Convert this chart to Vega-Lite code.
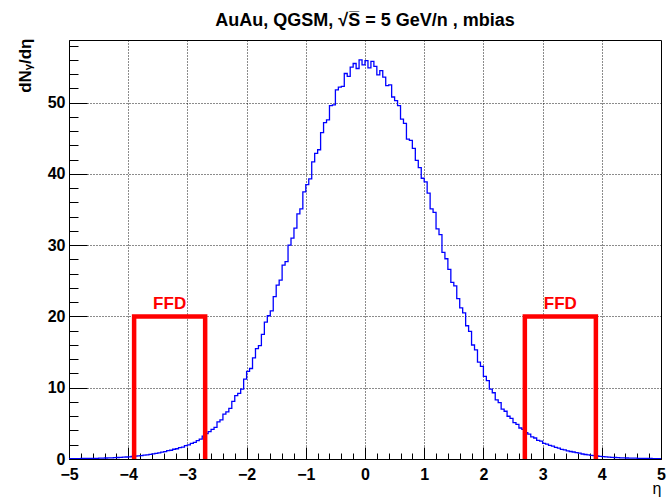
{
  "$schema": "https://vega.github.io/schema/vega-lite/v6.json",
  "width": 592,
  "height": 419,
  "autosize": "none",
  "padding": {"left": 69, "top": 40, "right": 6, "bottom": 38},
  "background": "white",
  "config": {
    "view": {"stroke": "#000", "strokeWidth": 1},
    "font": "Liberation Sans"
  },
  "title": {
    "text": "AuAu, QGSM,  √S̅ = 5 GeV/n , mbias",
    "font": "Liberation Sans",
    "fontSize": 18,
    "fontWeight": "bold",
    "color": "#000",
    "anchor": "middle",
    "offset": 8
  },
  "datasets": {
    "hist": [
      {"eta": -5.00, "dn": 0.05}, {"eta": -4.95, "dn": 0.05}, {"eta": -4.90, "dn": 0.06}, {"eta": -4.85, "dn": 0.06},
      {"eta": -4.80, "dn": 0.07}, {"eta": -4.75, "dn": 0.07}, {"eta": -4.70, "dn": 0.08}, {"eta": -4.65, "dn": 0.09},
      {"eta": -4.60, "dn": 0.10}, {"eta": -4.55, "dn": 0.10}, {"eta": -4.50, "dn": 0.11}, {"eta": -4.45, "dn": 0.12},
      {"eta": -4.40, "dn": 0.14}, {"eta": -4.35, "dn": 0.15}, {"eta": -4.30, "dn": 0.16}, {"eta": -4.25, "dn": 0.18},
      {"eta": -4.20, "dn": 0.21}, {"eta": -4.15, "dn": 0.22}, {"eta": -4.10, "dn": 0.25}, {"eta": -4.05, "dn": 0.28},
      {"eta": -4.00, "dn": 0.31}, {"eta": -3.95, "dn": 0.35}, {"eta": -3.90, "dn": 0.39}, {"eta": -3.85, "dn": 0.43},
      {"eta": -3.80, "dn": 0.48}, {"eta": -3.75, "dn": 0.53}, {"eta": -3.70, "dn": 0.57}, {"eta": -3.65, "dn": 0.66},
      {"eta": -3.60, "dn": 0.71}, {"eta": -3.55, "dn": 0.80}, {"eta": -3.50, "dn": 0.86}, {"eta": -3.45, "dn": 0.97},
      {"eta": -3.40, "dn": 1.04}, {"eta": -3.35, "dn": 1.17}, {"eta": -3.30, "dn": 1.23}, {"eta": -3.25, "dn": 1.37},
      {"eta": -3.20, "dn": 1.44}, {"eta": -3.15, "dn": 1.60}, {"eta": -3.10, "dn": 1.68}, {"eta": -3.05, "dn": 1.88},
      {"eta": -3.00, "dn": 1.98}, {"eta": -2.95, "dn": 2.19}, {"eta": -2.90, "dn": 2.32}, {"eta": -2.85, "dn": 2.58},
      {"eta": -2.80, "dn": 2.80}, {"eta": -2.75, "dn": 3.20}, {"eta": -2.70, "dn": 3.55}, {"eta": -2.65, "dn": 3.85},
      {"eta": -2.60, "dn": 4.15}, {"eta": -2.55, "dn": 4.45}, {"eta": -2.50, "dn": 5.2}, {"eta": -2.45, "dn": 5.5},
      {"eta": -2.40, "dn": 6.3}, {"eta": -2.35, "dn": 6.6}, {"eta": -2.30, "dn": 7.1}, {"eta": -2.25, "dn": 8.1},
      {"eta": -2.20, "dn": 8.9}, {"eta": -2.15, "dn": 9.2}, {"eta": -2.10, "dn": 9.8}, {"eta": -2.05, "dn": 11.2},
      {"eta": -2.00, "dn": 12.3}, {"eta": -1.95, "dn": 12.7}, {"eta": -1.90, "dn": 14.2}, {"eta": -1.85, "dn": 15.5},
      {"eta": -1.80, "dn": 15.9}, {"eta": -1.75, "dn": 17.5}, {"eta": -1.70, "dn": 19.2}, {"eta": -1.65, "dn": 20.1},
      {"eta": -1.60, "dn": 20.8}, {"eta": -1.55, "dn": 22.8}, {"eta": -1.50, "dn": 24.4}, {"eta": -1.45, "dn": 25.1},
      {"eta": -1.40, "dn": 27.2}, {"eta": -1.35, "dn": 27.7}, {"eta": -1.30, "dn": 30.0}, {"eta": -1.25, "dn": 31.0},
      {"eta": -1.20, "dn": 32.4}, {"eta": -1.15, "dn": 34.4}, {"eta": -1.10, "dn": 35.1}, {"eta": -1.05, "dn": 37.5},
      {"eta": -1.00, "dn": 38.5}, {"eta": -0.95, "dn": 39.3}, {"eta": -0.90, "dn": 41.7}, {"eta": -0.85, "dn": 42.9},
      {"eta": -0.80, "dn": 43.4}, {"eta": -0.75, "dn": 45.8}, {"eta": -0.70, "dn": 47.2}, {"eta": -0.65, "dn": 47.6},
      {"eta": -0.60, "dn": 49.6}, {"eta": -0.55, "dn": 49.7}, {"eta": -0.50, "dn": 51.8}, {"eta": -0.45, "dn": 52.2},
      {"eta": -0.40, "dn": 52.3}, {"eta": -0.35, "dn": 54.1}, {"eta": -0.30, "dn": 53.7}, {"eta": -0.25, "dn": 55.0},
      {"eta": -0.20, "dn": 55.5}, {"eta": -0.15, "dn": 54.8}, {"eta": -0.10, "dn": 56.0}, {"eta": -0.05, "dn": 55.3},
      {"eta": 0.00, "dn": 55.9}, {"eta": 0.05, "dn": 54.9}, {"eta": 0.10, "dn": 55.8}, {"eta": 0.15, "dn": 55.1},
      {"eta": 0.20, "dn": 53.9}, {"eta": 0.25, "dn": 54.5}, {"eta": 0.30, "dn": 53.6}, {"eta": 0.35, "dn": 52.4},
      {"eta": 0.40, "dn": 52.5}, {"eta": 0.45, "dn": 50.8}, {"eta": 0.50, "dn": 50.3}, {"eta": 0.55, "dn": 49.6},
      {"eta": 0.60, "dn": 47.7}, {"eta": 0.65, "dn": 47.1}, {"eta": 0.70, "dn": 44.9}, {"eta": 0.75, "dn": 44.7},
      {"eta": 0.80, "dn": 43.6}, {"eta": 0.85, "dn": 41.9}, {"eta": 0.90, "dn": 40.9}, {"eta": 0.95, "dn": 39.4},
      {"eta": 1.00, "dn": 38.9}, {"eta": 1.05, "dn": 37.3}, {"eta": 1.10, "dn": 35.1}, {"eta": 1.15, "dn": 34.6},
      {"eta": 1.20, "dn": 32.3}, {"eta": 1.25, "dn": 31.5}, {"eta": 1.30, "dn": 29.0}, {"eta": 1.35, "dn": 28.1},
      {"eta": 1.40, "dn": 26.6}, {"eta": 1.45, "dn": 24.8}, {"eta": 1.50, "dn": 24.3}, {"eta": 1.55, "dn": 22.5},
      {"eta": 1.60, "dn": 21.2}, {"eta": 1.65, "dn": 20.5}, {"eta": 1.70, "dn": 18.7}, {"eta": 1.75, "dn": 17.9},
      {"eta": 1.80, "dn": 16.0}, {"eta": 1.85, "dn": 15.3}, {"eta": 1.90, "dn": 13.6}, {"eta": 1.95, "dn": 13.0},
      {"eta": 2.00, "dn": 11.6}, {"eta": 2.05, "dn": 11.0}, {"eta": 2.10, "dn": 9.8}, {"eta": 2.15, "dn": 9.3},
      {"eta": 2.20, "dn": 8.3}, {"eta": 2.25, "dn": 7.9}, {"eta": 2.30, "dn": 7.0}, {"eta": 2.35, "dn": 6.7},
      {"eta": 2.40, "dn": 6.0}, {"eta": 2.45, "dn": 5.7}, {"eta": 2.50, "dn": 5.1}, {"eta": 2.55, "dn": 4.85},
      {"eta": 2.60, "dn": 4.35}, {"eta": 2.65, "dn": 4.15}, {"eta": 2.70, "dn": 3.7}, {"eta": 2.75, "dn": 3.5},
      {"eta": 2.80, "dn": 3.1}, {"eta": 2.85, "dn": 2.95}, {"eta": 2.90, "dn": 2.6}, {"eta": 2.95, "dn": 2.5},
      {"eta": 3.00, "dn": 2.2}, {"eta": 3.05, "dn": 2.1}, {"eta": 3.10, "dn": 1.9}, {"eta": 3.15, "dn": 1.82},
      {"eta": 3.20, "dn": 1.62}, {"eta": 3.25, "dn": 1.52}, {"eta": 3.30, "dn": 1.35}, {"eta": 3.35, "dn": 1.28},
      {"eta": 3.40, "dn": 1.15}, {"eta": 3.45, "dn": 1.05}, {"eta": 3.50, "dn": 0.98}, {"eta": 3.55, "dn": 0.89},
      {"eta": 3.60, "dn": 0.82}, {"eta": 3.65, "dn": 0.70}, {"eta": 3.70, "dn": 0.63}, {"eta": 3.75, "dn": 0.57},
      {"eta": 3.80, "dn": 0.52}, {"eta": 3.85, "dn": 0.46}, {"eta": 3.90, "dn": 0.42}, {"eta": 3.95, "dn": 0.36},
      {"eta": 4.00, "dn": 0.33}, {"eta": 4.05, "dn": 0.30}, {"eta": 4.10, "dn": 0.26}, {"eta": 4.15, "dn": 0.24},
      {"eta": 4.20, "dn": 0.21}, {"eta": 4.25, "dn": 0.19}, {"eta": 4.30, "dn": 0.17}, {"eta": 4.35, "dn": 0.16},
      {"eta": 4.40, "dn": 0.14}, {"eta": 4.45, "dn": 0.13}, {"eta": 4.50, "dn": 0.11}, {"eta": 4.55, "dn": 0.11},
      {"eta": 4.60, "dn": 0.10}, {"eta": 4.65, "dn": 0.09}, {"eta": 4.70, "dn": 0.08}, {"eta": 4.75, "dn": 0.08},
      {"eta": 4.80, "dn": 0.07}, {"eta": 4.85, "dn": 0.06}, {"eta": 4.90, "dn": 0.06}, {"eta": 4.95, "dn": 0.05},
      {"eta": 5.00, "dn": 0.05}
    ],
    "ffd": [
      {"box": "L", "k": 1, "eta": -3.9, "dn": 0}, {"box": "L", "k": 2, "eta": -3.9, "dn": 20},
      {"box": "L", "k": 3, "eta": -2.7, "dn": 20}, {"box": "L", "k": 4, "eta": -2.7, "dn": 0},
      {"box": "R", "k": 1, "eta": 2.7, "dn": 0}, {"box": "R", "k": 2, "eta": 2.7, "dn": 20},
      {"box": "R", "k": 3, "eta": 3.9, "dn": 20}, {"box": "R", "k": 4, "eta": 3.9, "dn": 0}
    ],
    "ffdlabel": [
      {"eta": -3.3, "dn": 20, "label": "FFD"},
      {"eta": 3.3, "dn": 20, "label": "FFD"}
    ]
  },
  "layer": [
    {
      "data": {"name": "hist"},
      "mark": {"type": "line", "interpolate": "step-after", "color": "#0000ff", "strokeWidth": 1.3, "clip": true},
      "encoding": {
        "x": {
          "field": "eta", "type": "quantitative",
          "scale": {"domain": [-5, 5], "nice": false, "zero": false},
          "axis": {
            "values": [-5, -4.8, -4.6, -4.4, -4.2, -4, -3.8, -3.6, -3.4, -3.2, -3, -2.8, -2.6, -2.4, -2.2, -2, -1.8, -1.6, -1.4, -1.2, -1, -0.8, -0.6, -0.4, -0.2, 0, 0.2, 0.4, 0.6, 0.8, 1, 1.2, 1.4, 1.6, 1.8, 2, 2.2, 2.4, 2.6, 2.8, 3, 3.2, 3.4, 3.6, 3.8, 4, 4.2, 4.4, 4.6, 4.8, 5],
            "tickCount": 200,
            "labelExpr": "datum.value % 1 == 0 ? format(datum.value, 'd') : ''",
            "grid": true,
            "gridColor": "#000",
            "gridDash": [1, 2],
            "gridWidth": 1,
            "gridOpacity": {"condition": {"test": "datum.value % 1 == 0 && abs(datum.value) < 5", "value": 0.9}, "value": 0},
            "tickSize": {"condition": {"test": "datum.value % 1 == 0", "value": -12}, "value": -6},
            "tickColor": "#000",
            "tickWidth": 1,
            "domainColor": "#000",
            "labelFont": "Liberation Sans",
            "labelFontWeight": "bold",
            "labelFontSize": 16,
            "labelColor": "#000",
            "labelPadding": 19,
            "labelFlush": false,
            "labelOverlap": false,
            "labelBound": false,
            "title": "η",
            "titleFont": "Liberation Sans",
            "titleFontSize": 16,
            "titleFontWeight": "normal",
            "titleColor": "#000",
            "titleAlign": "right",
            "titleBaseline": "alphabetic",
            "titleX": 592,
            "titleY": 34
          }
        },
        "y": {
          "field": "dn", "type": "quantitative",
          "scale": {"domain": [0, 58.8], "nice": false, "zero": false},
          "axis": {
            "values": [0, 2, 4, 6, 8, 10, 12, 14, 16, 18, 20, 22, 24, 26, 28, 30, 32, 34, 36, 38, 40, 42, 44, 46, 48, 50, 52, 54, 56, 58],
            "tickCount": 200,
            "labelExpr": "datum.value % 10 == 0 ? format(datum.value, 'd') : ''",
            "grid": true,
            "gridColor": "#000",
            "gridDash": [1, 2],
            "gridWidth": 1,
            "gridOpacity": {"condition": {"test": "datum.value % 10 == 0 && datum.value > 0", "value": 0.9}, "value": 0},
            "tickSize": {"condition": {"test": "datum.value % 10 == 0", "value": -18}, "value": -9},
            "tickColor": "#000",
            "tickWidth": 1,
            "domainColor": "#000",
            "labelFont": "Liberation Sans",
            "labelFontWeight": "bold",
            "labelFontSize": 16,
            "labelColor": "#000",
            "labelPadding": 22,
            "labelFlush": false,
            "labelOverlap": false,
            "labelBound": false,
            "title": "dNᵧ/dη",
            "titleFont": "Liberation Sans",
            "titleFontSize": 17,
            "titleFontWeight": "bold",
            "titleColor": "#000",
            "titleAngle": -90,
            "titleAlign": "right",
            "titleBaseline": "bottom",
            "titleX": -35,
            "titleY": -2
          }
        }
      }
    },
    {
      "data": {"name": "ffd"},
      "mark": {"type": "line", "color": "#ff0000", "strokeWidth": 4.5, "strokeJoin": "miter", "strokeCap": "butt"},
      "encoding": {
        "x": {"field": "eta", "type": "quantitative"},
        "y": {"field": "dn", "type": "quantitative"},
        "detail": {"field": "box", "type": "nominal"},
        "order": {"field": "k", "type": "quantitative"}
      }
    },
    {
      "data": {"name": "ffdlabel"},
      "mark": {"type": "text", "color": "#ff0000", "font": "Liberation Sans", "fontWeight": "bold", "fontSize": 17, "baseline": "alphabetic", "align": "center", "dy": -7},
      "encoding": {
        "x": {"field": "eta", "type": "quantitative"},
        "y": {"field": "dn", "type": "quantitative"},
        "text": {"field": "label"}
      }
    }
  ]
}
